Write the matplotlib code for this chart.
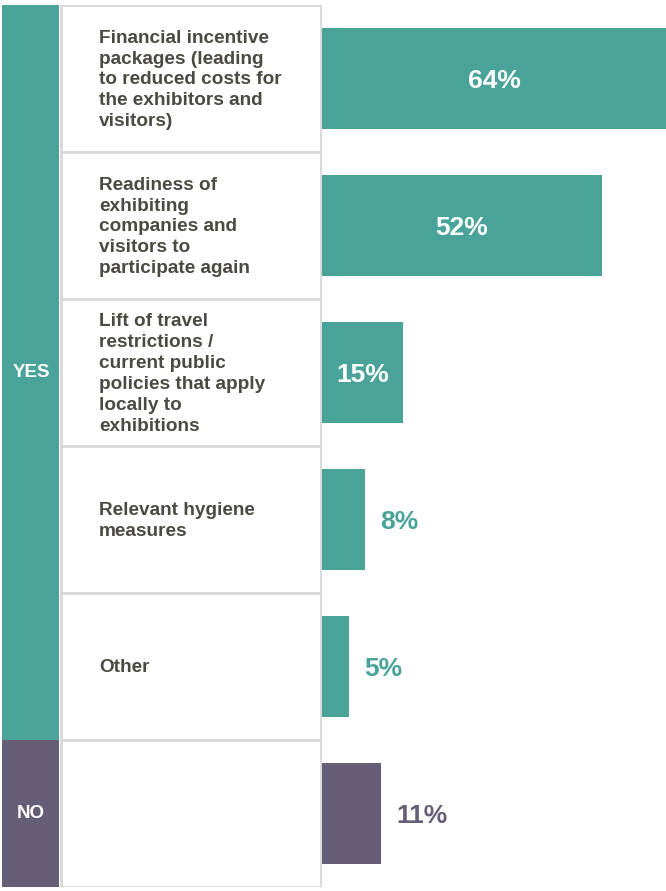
import matplotlib.pyplot as plt
from matplotlib.patches import Rectangle

labels = [
    "Financial incentive\npackages (leading\nto reduced costs for\nthe exhibitors and\nvisitors)",
    "Readiness of\nexhibiting\ncompanies and\nvisitors to\nparticipate again",
    "Lift of travel\nrestrictions /\ncurrent public\npolicies that apply\nlocally to\nexhibitions",
    "Relevant hygiene\nmeasures",
    "Other",
    "",
]
values = [64, 52, 15, 8, 5, 11]
groups = ["YES", "YES", "YES", "YES", "YES", "NO"]

green = "#4aa399"
purple = "#655e76"
text_col = "#4b4a42"
border = "#d9d9d9"
colors = [green if g == "YES" else purple for g in groups]

plt.rcParams['font.family'] = ['Liberation Sans', 'DejaVu Sans']

W, H = 666, 891
fig = plt.figure(figsize=(W / 100, H / 100), dpi=100)

top_px, bot_px = 5, 887
n = len(values)
bottom = 1 - bot_px / H
height = (bot_px - top_px) / H

# left part: group band + label cells (x in pixels)
axl = fig.add_axes([0, bottom, 322 / W, height])
axl.set_xlim(0, 322)
axl.set_ylim(n - 0.5, -0.5)
axl.axis("off")

# group bands
for g in ["YES", "NO"]:
    idx = [i for i, gg in enumerate(groups) if gg == g]
    y0, y1 = idx[0] - 0.5, idx[-1] + 0.5
    col = green if g == "YES" else purple
    axl.add_patch(Rectangle((2, y0), 57, y1 - y0, color=col, lw=0))
    axl.text(31, (y0 + y1) / 2, g, color="white", fontsize=13.5, fontweight="bold",
             ha="center", va="center")

for i, lab in enumerate(labels):
    axl.add_patch(Rectangle((61, i - 0.5), 260, 1, facecolor="white",
                            edgecolor=border, lw=2))
    axl.text(99, i + 0.01, lab, color=text_col, fontsize=13.7, fontweight="bold",
             ha="left", va="center", linespacing=1.3)

# bars
axb = fig.add_axes([322 / W, bottom, (W - 322) / W, height])
axb.barh(range(n), values, height=0.69, color=colors)
axb.set_xlim(0, 64)
axb.set_ylim(n - 0.5, -0.5)
axb.axis("off")

for i, v in enumerate(values):
    if v >= 15:
        axb.text(v / 2, i + 0.02, f"{v}%", color="white", fontsize=19, fontweight="bold",
                 ha="center", va="center")
    else:
        axb.text(v + 2.9, i + 0.02, f"{v}%", color=colors[i], fontsize=19, fontweight="bold",
                 ha="left", va="center")

fig.savefig("out.png", dpi=100)
